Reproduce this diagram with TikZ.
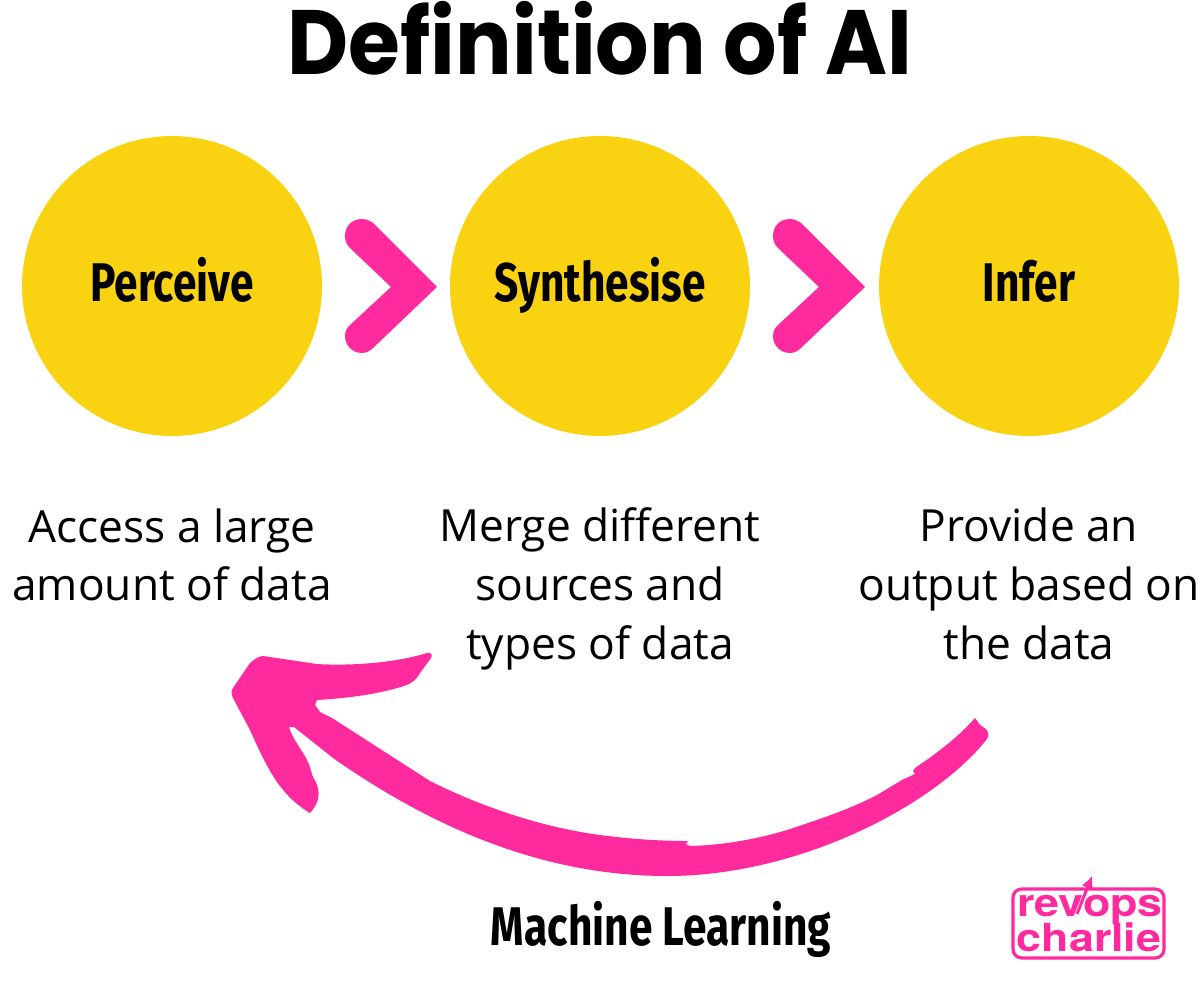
\documentclass[tikz,border=0pt]{standalone}
\usepackage{fontspec}
\setmainfont{Open Sans}
\newfontfamily\titlefont[FakeStretch=0.92]{Poppins}
\newfontfamily\stepfont[FakeStretch=0.78]{Fira Sans}
\newfontfamily\logofont[FakeStretch=1.16]{TeX Gyre Heros}
\usetikzlibrary{arrows.meta}
\definecolor{stepyellow}{HTML}{F9D311}
\definecolor{charliepink}{HTML}{FF2A9E}
\tikzset{
	stepcircle/.style={circle, fill=stepyellow, minimum size=6cm, inner sep=0pt},
	steplabel/.style={font=\stepfont\bfseries\fontsize{31}{33}\selectfont, anchor=base},
	desc/.style={font=\fontsize{25.2}{33.45}\selectfont, align=center},
	logotext/.style={font=\logofont\bfseries\fontsize{22}{24}\selectfont, text=charliepink, inner sep=0pt, anchor=base}
}
\begin{document}
\begin{tikzpicture}[x=0.02cm, y=-0.02cm]
	\useasboundingbox (0,0) rectangle (1200,1000);
	
	%title
	\node[font=\titlefont\bfseries\fontsize{52}{60}\selectfont, anchor=base] (title) at (600,75) {Definition of AI};
	
	%circles
	\node[stepcircle] (perceive) at (172,286) {};
	\node[stepcircle] (synthesise) at (600,286) {};
	\node[stepcircle] (infer) at (1029,286) {};
	\node[steplabel] (perceivelabel) at (172,301) {Perceive};
	\node[steplabel] (synthesiselabel) at (600,301) {Synthesise};
	\node[steplabel] (inferlabel) at (1029,301) {Infer};
	
	%chevrons
	\foreach \dx in {0,428} {
		\fill[charliepink, xshift=\dx*0.02cm] (437,287) -- (373,223) .. controls (367,219) and (365,219) .. (362,219)
			.. controls (351,219) and (345,227) .. (345,236) .. controls (345,241) and (347,245) .. (350,248)
			-- (391,287) -- (350,325) .. controls (347,328) and (345,331) .. (345,336)
			.. controls (345,345) and (352,353) .. (362,353) .. controls (366,353) and (370,351) .. (373,348) -- cycle;
	}
	
	%descriptions
	\node[desc] (perceivetext) at (172,555) {Access a large\\amount of data};
	\node[desc] (synthesisetext) at (600,589) {Merge different\\sources and\\types of data};
	\node[desc] (infertext) at (1029,584) {Provide an\\output based on\\the data};
	
	%feedback arrow
	\fill[charliepink] (263,656) -- (317,664) .. controls (350,666) and (395,663) .. (427,653)
		.. controls (431,652) and (433,655) .. (431,658) -- (420,673) .. controls (416,680) and (413,682) .. (407,685)
		.. controls (380,694) and (350,698) .. (317,700) -- (315,705) -- (320,712) -- (332,718) -- (430,781)
		.. controls (480,806) and (540,827) .. (600,835) .. controls (630,839) and (660,841) .. (688,841)
		-- (686,844) -- (690,846) .. controls (725,845) and (757,839) .. (787,830)
		.. controls (820,819) and (848,810) .. (877,795) -- (902,780) -- (915,774) -- (913,771) -- (915,768)
		.. controls (940,751) and (958,737) .. (975,718) -- (980,725) -- (983,727) .. controls (988,729) and (990,735) .. (987,739)
		.. controls (935,805) and (800,876) .. (667,876) .. controls (560,876) and (450,840) .. (333,758)
		-- (294,727) -- (289,727) .. controls (293,740) and (302,750) .. (307,760) .. controls (311,768) and (311,772) .. (313,777)
		.. controls (320,788) and (322,800) .. (310,813) .. controls (280,795) and (268,770) .. (250,730)
		-- (233,698) .. controls (231,694) and (231,691) .. (233,688) -- (250,663) .. controls (254,660) and (258,656) .. (263,656) -- cycle;
	\node[steplabel] (mllabel) at (661,945) {Machine Learning};
	
	%logo
	\draw[charliepink, line width=1.8pt, rounded corners=5pt] (1013,889) rectangle (1164,958);
	\node[logotext] (revops) at (1090,916) {revops};
	\node[logotext] (charlie) at (1089,951) {charlie};
	\coordinate (logotail) at (1077,914);
	\coordinate (logohead) at (1092,876);
	\draw[charliepink, line width=1.7pt, -{Latex[length=7pt,width=7pt]}] (logotail) -- (logohead);
\end{tikzpicture}
\end{document}
